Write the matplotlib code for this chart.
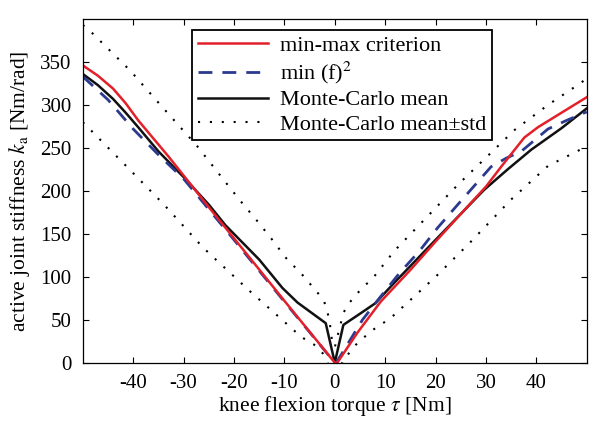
import matplotlib
matplotlib.use("Agg")
import matplotlib.pyplot as plt

plt.rcParams['font.family'] = ['Liberation Serif', 'DejaVu Serif']
plt.rcParams['mathtext.fontset'] = 'stix'
plt.rcParams['axes.unicode_minus'] = False

# min-max criterion (red)
tau_red = [-50, -47, -44, -41.5, -39, -36, -33, -25, -17, -10, -5, 0, 0.5, 4.5, 9.1, 15, 20, 26.7, 30, 33,
           37.6, 40.3, 45, 50]
k_red = [346, 334, 319, 302, 282, 261, 240, 181, 123, 72, 36, 0, 0, 35, 71, 108, 141, 184, 205, 228,
         262, 274, 291, 309]

# min (f)^2 (blue dashed)
tau_blue = [-50, -45, -40, -35, -30, -20, -10, 0, 0.3, 5.5, 9.1, 12.8, 16.8, 20.4, 24.4, 28, 31, 34, 37,
            42.3, 46, 50]
k_blue = [333, 306, 272, 242, 214, 143, 71, 0, 0, 50, 77, 104, 130, 157, 184, 208, 228, 238, 246,
          272, 282, 292]

# Monte-Carlo mean (black)
tau_mc = [-50, -47, -44, -41.5, -39, -35, -30, -25, -21.7, -15, -10.4, -7.4, -1.8, 0, 1.7, 5, 8, 11.8, 20,
          29.6, 34.3, 39, 45, 50]
k_mc = [336, 323, 307, 291, 274, 246, 216, 184, 160, 120, 87, 70, 46, 0, 44, 57, 69, 93, 143,
        201, 225, 248, 273, 296]

# Monte-Carlo mean + std (upper dotted)
tau_up = [-50, -48.2, -40.6, -34.6, -27.3, -21, -18.4, -15.4, -12.4, -9.7, -6.4, -5.1, -3.6, -2.1, -1.5, -1,
          -0.8, -0.5, 0, 0.5, 1.2, 1.7, 2.8, 4.2, 5.8, 7.5, 11.8, 24.4, 35.7, 42.3, 48.9, 50]
k_up = [393, 384, 340, 300, 252, 205, 186, 165, 143, 122, 102, 93, 83, 71, 60, 47,
        36, 24, 18, 30, 46, 58, 69, 79, 89, 98, 130, 207, 271, 300, 326, 331]

# Monte-Carlo mean - std (lower dotted)
tau_lo = [-50, -40.4, -33.9, -26.3, -24.7, -17, -12, -7.8, -6.1, -4.1, -2.4, -1.8, 0, 1.7, 4.2, 5.5, 7.5,
          11.1, 20, 26.7, 35, 42.3, 49.4, 50]
k_lo = [280, 223, 184, 135, 126, 84, 58, 36, 28, 21, 11, 5, -20, 3, 21, 28, 38,
        52, 100, 139, 190, 229, 250, 252]

xticks = [-40, -30, -20, -10, 0, 10, 20, 30, 40]
yticks = [0, 50, 100, 150, 200, 250, 300, 350]

fig = plt.figure(figsize=(6.0, 4.28), dpi=100)
ax = fig.add_axes([0.138, 0.1526, 0.840, 0.803])

dot_style = (0, (1, 4.7))
l_up, = ax.plot(tau_up, k_up, color='black', lw=1.5, linestyle=dot_style)
ax.plot(tau_lo, k_lo, color='black', lw=1.5, linestyle=dot_style)
l_mc, = ax.plot(tau_mc, k_mc, color='#111111', lw=1.8)
l_blue, = ax.plot(tau_blue, k_blue, color='#2B3a8f', lw=2.0, linestyle=(0, (5, 3.6)))
l_red, = ax.plot(tau_red, k_red, color='#e3202a', lw=1.8)

ax.set_xlim(-50, 50)
ax.set_ylim(0, 400)
ax.set_xticks(xticks)
ax.set_yticks(yticks)
ax.set_xticklabels([str(t) for t in xticks])
ax.set_yticklabels([str(t) for t in yticks])
ax.tick_params(direction='in', length=4, width=0.8, top=True, right=True, labelsize=15, pad=8)
for s in ax.spines.values():
    s.set_linewidth(0.9)

ax.set_xlabel(r'knee flexion torque $\tau$ [Nm]', fontsize=15.5, labelpad=1)
ax.set_ylabel(r'active joint stiffness $k_{\mathrm{a}}$ [Nm/rad]', fontsize=15.5, labelpad=6)

leg = ax.legend([l_red, l_blue, l_mc, l_up],
                ['min-max criterion', r'min (f)$^2$', 'Monte-Carlo mean', 'Monte-Carlo mean±std'],
                loc='upper left', bbox_to_anchor=(0.217, 0.968), fontsize=16,
                frameon=True, fancybox=False, framealpha=1, edgecolor='black',
                handlelength=3.15, handletextpad=0.55, labelspacing=0.17, borderpad=0.25,
                borderaxespad=0)
leg.get_frame().set_linewidth(1.3)

fig.savefig('out.png', dpi=100)
